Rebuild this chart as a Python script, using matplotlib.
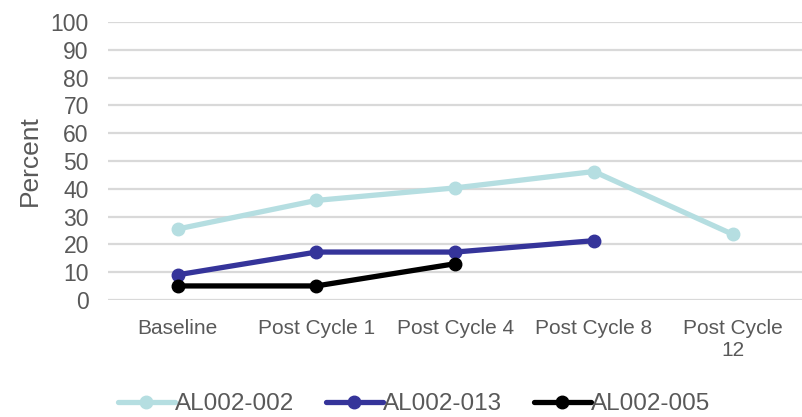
import matplotlib.pyplot as plt

categories = ["Baseline", "Post Cycle 1", "Post Cycle 4", "Post Cycle 8", "Post Cycle\n12"]
al002_002 = [25.5, 35.8, 40.3, 46.2, 23.6]
al002_013 = [9.0, 17.2, 17.2, 21.3]
al002_005 = [5.0, 5.0, 13.0]

plt.rcParams['font.family'] = ['Liberation Sans', 'DejaVu Sans']
gray = '#595959'

fig = plt.figure(figsize=(8.02, 4.17), dpi=100)
ax = fig.add_axes([0.135, 0.281, 0.865, 0.666])

series = [
    ("AL002-002", al002_002, '#B5DEE1'),
    ("AL002-013", al002_013, '#35349A'),
    ("AL002-005", al002_005, '#000000'),
]
for name, vals, col in series:
    ax.plot(range(len(vals)), vals, color=col, lw=3.8, marker='o', ms=9,
            solid_capstyle='round', label=name, zorder=3)

ax.set_xlim(-0.5, len(categories) - 0.5)
ax.set_ylim(0, 100)
ax.set_yticks(range(0, 101, 10))
ax.set_xticks(range(len(categories)))
ax.set_xticklabels(categories)
ax.tick_params(length=0, labelcolor=gray)
ax.tick_params(axis='y', labelsize=16.5, pad=14)
ax.tick_params(axis='x', labelsize=15, pad=14)
ax.grid(axis='y', color='#D9D9D9', lw=1.6)
ax.set_axisbelow(True)
for s in ax.spines.values():
    s.set_visible(False)
ax.set_ylabel("Percent", fontsize=19, color=gray, labelpad=6)

fig.legend(loc='center', bbox_to_anchor=(0.516, 0.03), ncol=3, frameon=False,
           fontsize=17.5, labelcolor=gray, handlelength=2.35, columnspacing=1.3,
           handletextpad=0.0)

fig.savefig("out.png", dpi=100)
